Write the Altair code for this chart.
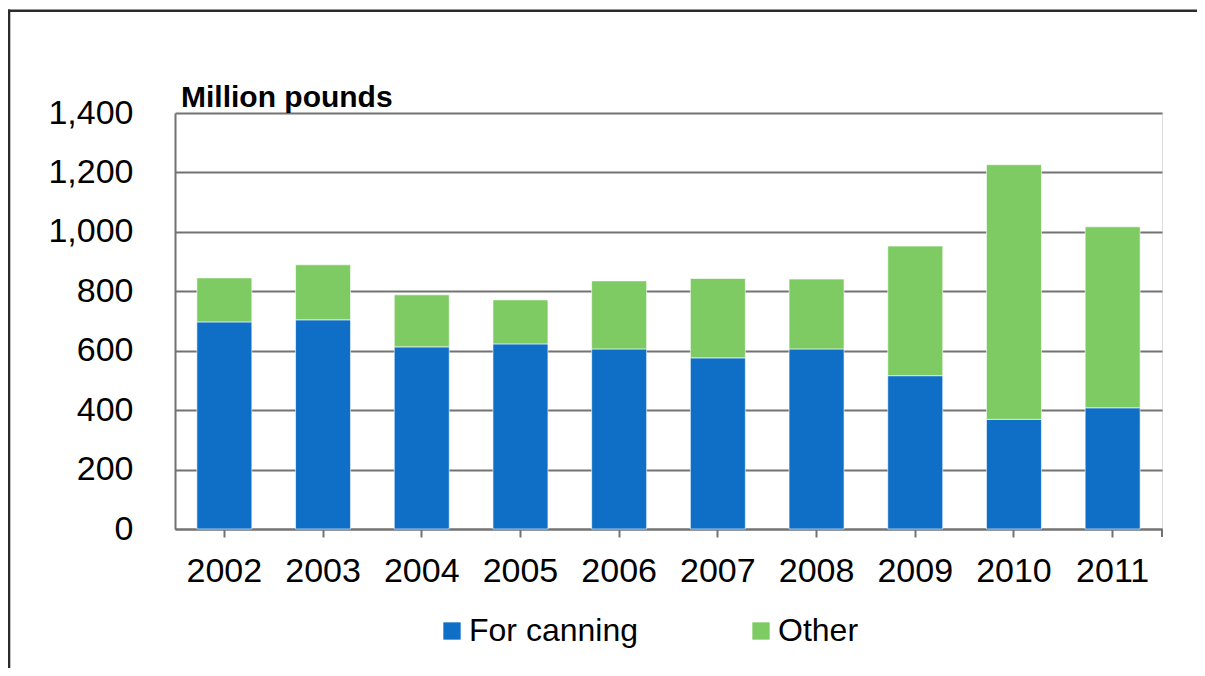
import altair as alt
import pandas as pd

years = ["2002", "2003", "2004", "2005", "2006", "2007", "2008", "2009", "2010", "2011"]
for_canning = [697, 704, 613, 623, 606, 576, 606, 516, 369, 408]
other = [148, 185, 175, 148, 229, 267, 235, 436, 857, 609]
series = ["For canning", "Other"]
colors = ["#0f6fc6", "#7dcb62"]
y_ticks = [0, 200, 400, 600, 800, 1000, 1200, 1400]
unit_label = "Million pounds"

rows = []
for i, yr in enumerate(years):
    rows.append({"year": yr, "series": series[0], "value": for_canning[i], "ord": 0})
    rows.append({"year": yr, "series": series[1], "value": other[i], "ord": 1})
df = pd.DataFrame(rows)

W, H = 987, 416
FONT = "Liberation Sans"
GRAY = "#737373"

bars = alt.Chart(df).mark_bar(stroke="#ffffff", strokeWidth=1, strokeOpacity=0.6).encode(
    x=alt.X("year:N", sort=years,
            scale=alt.Scale(paddingInner=0.443, paddingOuter=0.2215),
            axis=alt.Axis(title=None, labelAngle=0, labelFontSize=34, labelFont=FONT,
                          labelColor="#000000", tickSize=8, tickColor=GRAY, tickWidth=2,
                          domainColor=GRAY, domainWidth=2, labelPadding=17, grid=False)),
    y=alt.Y("value:Q", stack="zero",
            scale=alt.Scale(domain=[0, 1400], nice=False),
            axis=alt.Axis(title=None, values=y_ticks, format=",d", labelFontSize=34,
                          labelFont=FONT, labelColor="#000000", ticks=False,
                          labelPadding=42, grid=True, gridColor=GRAY, gridWidth=2,
                          domainColor=GRAY, domainWidth=2)),
    color=alt.Color("series:N", sort=series,
                    scale=alt.Scale(domain=series, range=colors),
                    legend=alt.Legend(title=None, orient="none", legendX=261, legendY=502,
                                      direction="horizontal", labelFontSize=32,
                                      labelFont=FONT, labelColor="#000000", labelLimit=0,
                                      symbolType="square", symbolSize=300,
                                      symbolStrokeWidth=0, labelOffset=1,
                                      columnPadding=107, padding=0)),
    order=alt.Order("ord:Q", sort="ascending"),
)

unit = alt.Chart(pd.DataFrame({"t": [unit_label]})).mark_text(
    align="left", baseline="alphabetic", fontSize=30, fontWeight="bold", font=FONT,
    color="#000000"
).encode(text="t:N", x=alt.value(6), y=alt.value(-6))

end_tick = alt.Chart(pd.DataFrame({"a": [0]})).mark_rule(color=GRAY, strokeWidth=2).encode(
    x=alt.value(W), y=alt.value(H), y2=alt.value(H + 8))

frame_top = alt.Chart(pd.DataFrame({"a": [0]})).mark_rule(color="#2b2b2b", strokeWidth=2.6).encode(
    x=alt.value(-167), x2=alt.value(1040), y=alt.value(-102.3))
frame_left = alt.Chart(pd.DataFrame({"a": [0]})).mark_rule(color="#2b2b2b", strokeWidth=2.6).encode(
    x=alt.value(-166), y=alt.value(-103.5), y2=alt.value(580))

chart = alt.layer(bars, unit, end_tick, frame_top, frame_left).properties(
    width=W, height=H,
    autosize=alt.AutoSizeParams(type="none"),
    padding={"left": 167, "top": 105, "right": 35, "bottom": 139},
).configure_view(stroke=None).configure(font=FONT)

chart.save("out.html", embed_options={"renderer": "svg", "actions": False})
